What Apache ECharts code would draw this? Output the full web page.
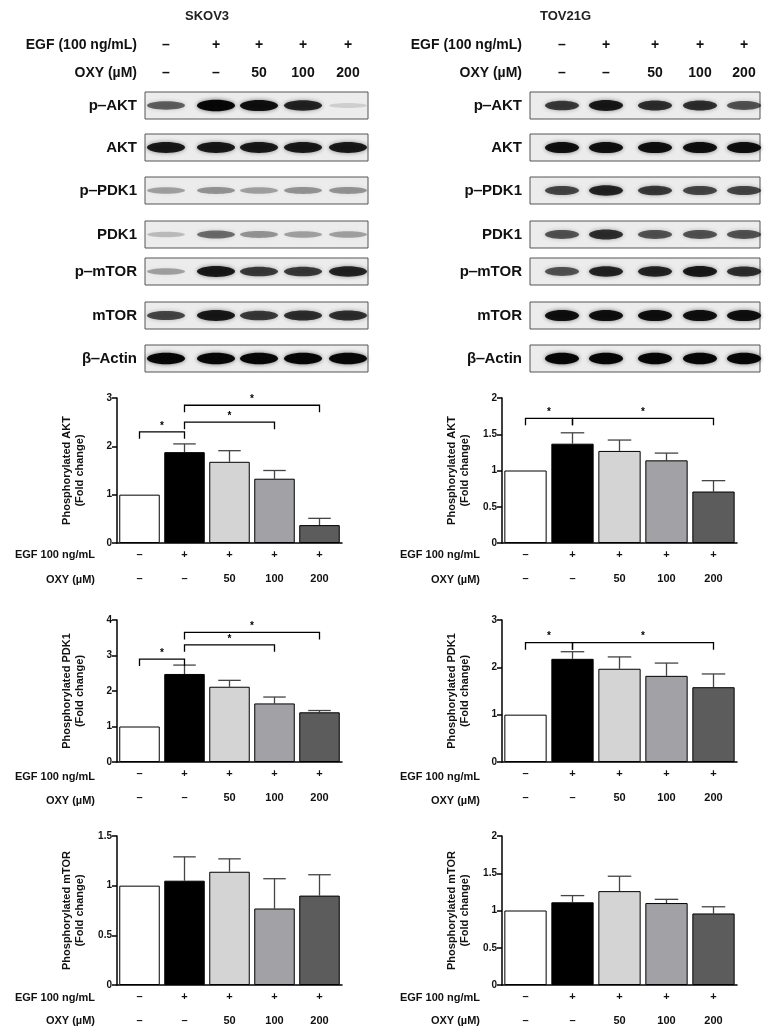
<!DOCTYPE html>
<html><head><meta charset="utf-8">
<script src="https://cdn.jsdelivr.net/npm/echarts@6/dist/echarts.min.js"></script>
<style>html,body{margin:0;padding:0;background:#fff}#c{width:773px;height:1033px}</style>
</head><body><div id="c"></div>
<script>
// ---- data ----
const egf = ['–','+','+','+','+'];
const oxy = ['–','–','50','100','200'];
const cellLines = ['SKOV3','TOV21G'];
const blotRows = ['p‒AKT','AKT','p‒PDK1','PDK1','p‒mTOR','mTOR','β‒Actin'];
// band darkness per row (0..1), per cell line
const bandsSKOV3 = [[0.55,0.95,0.9,0.8,0.12],[0.85,0.85,0.85,0.85,0.85],[0.3,0.35,0.3,0.35,0.35],[0.2,0.5,0.35,0.3,0.3],[0.3,0.85,0.7,0.7,0.8],[0.65,0.85,0.7,0.75,0.75],[0.95,0.95,0.95,0.95,0.95]];
const bandsTOV = [[0.7,0.85,0.75,0.75,0.6],[0.9,0.9,0.9,0.9,0.9],[0.65,0.8,0.7,0.65,0.65],[0.6,0.75,0.6,0.6,0.6],[0.6,0.8,0.8,0.85,0.75],[0.9,0.9,0.9,0.9,0.9],[0.95,0.95,0.95,0.95,0.95]];
const akt_S = [1,1.88,1.68,1.33,0.37], akt_S_err=[0,0.17,0.23,0.17,0.14];
const akt_T = [1,1.37,1.27,1.14,0.71], akt_T_err=[0,0.15,0.15,0.1,0.15];
const pdk_S = [1,2.48,2.12,1.65,1.4], pdk_S_err=[0,0.25,0.18,0.18,0.05];
const pdk_T = [1,2.18,1.97,1.82,1.58], pdk_T_err=[0,0.15,0.25,0.27,0.28];
const mtor_S = [1,1.05,1.14,0.77,0.9], mtor_S_err=[0,0.24,0.13,0.3,0.21];
const mtor_T = [1,1.11,1.26,1.1,0.96], mtor_T_err=[0,0.09,0.2,0.05,0.09];
// significance brackets: [fromIdx, toIdx, yValue]
const sig_akt_S = [[0,1,2.3],[1,3,2.5],[1,4,2.85]];
const sig_akt_T = [[0,1,1.72],[1,4,1.72]];
const sig_pdk_S = [[0,1,2.9],[1,3,3.3],[1,4,3.65]];
const sig_pdk_T = [[0,1,2.52],[1,4,2.52]];
const barColors = ['#ffffff','#000000','#d4d4d4','#a2a2a6','#5c5c5c'];

// ---- layout ----
const F = 'Liberation Sans, Arial, sans-serif';
const panels = [
 {lanes:[166,216,259,303,348], box:[145,368], labelX:137, title:[185,'SKOV3'], bands:bandsSKOV3, rx:19},
 {lanes:[562,606,655,700,744], box:[530,760], labelX:522, title:[540,'TOV21G'], bands:bandsTOV, rx:17}
];
const rowY = [92,134,177,221,258,302,345];
const rowH = 27;
const graphic = [];
panels.forEach(p=>{
  graphic.push({type:'text',left:p.title[0],top:10,style:{text:p.title[1],font:'bold 13px '+F,fill:'#222'}});
  graphic.push({type:'text',x:p.labelX,y:45,style:{text:'EGF (100 ng/mL)',font:'bold 14px '+F,align:'right',verticalAlign:'middle',fill:'#111'}});
  graphic.push({type:'text',x:p.labelX,y:73,style:{text:'OXY (µM)',font:'bold 14px '+F,align:'right',verticalAlign:'middle',fill:'#111'}});
  p.lanes.forEach((x,i)=>{
    graphic.push({type:'text',x:x,y:45,style:{text:egf[i],font:'bold 14px '+F,align:'center',verticalAlign:'middle',fill:'#111'}});
    graphic.push({type:'text',x:x,y:73,style:{text:oxy[i],font:'bold 14px '+F,align:'center',verticalAlign:'middle',fill:'#111'}});
  });
  blotRows.forEach((name,r)=>{
    const y=rowY[r];
    graphic.push({type:'text',x:p.labelX,y:y+rowH/2,style:{text:name,font:'bold 15px '+F,align:'right',verticalAlign:'middle',fill:'#111'}});
    graphic.push({type:'rect',shape:{x:p.box[0],y:y,width:p.box[1]-p.box[0],height:rowH},style:{fill:'#ececec',stroke:'#555',lineWidth:1}});
    p.lanes.forEach((x,i)=>{
      const d=p.bands[r][i];
      graphic.push({type:'ellipse',shape:{cx:x,cy:y+rowH/2,rx:p.rx,ry:2+d*4},style:{fill:'rgba(0,0,0,'+d+')',shadowBlur:4,shadowColor:'rgba(0,0,0,'+(d*0.6)+')'}});
    });
  });
});

const charts = [
 {left:117,width:225,top:398,height:145,max:3,interval:1,name:'AKT',v:akt_S,e:akt_S_err,s:sig_akt_S,rowX:95,rowY:[555,580]},
 {left:502,width:235,top:398,height:145,max:2,interval:0.5,name:'AKT',v:akt_T,e:akt_T_err,s:sig_akt_T,rowX:480,rowY:[555,580]},
 {left:117,width:225,top:620,height:142,max:4,interval:1,name:'PDK1',v:pdk_S,e:pdk_S_err,s:sig_pdk_S,rowX:95,rowY:[777,801]},
 {left:502,width:235,top:620,height:142,max:3,interval:1,name:'PDK1',v:pdk_T,e:pdk_T_err,s:sig_pdk_T,rowX:480,rowY:[777,801]},
 {left:117,width:225,top:836,height:149,max:1.5,interval:0.5,name:'mTOR',v:mtor_S,e:mtor_S_err,s:[],rowX:95,rowY:[998,1021]},
 {left:502,width:235,top:836,height:149,max:2,interval:0.5,name:'mTOR',v:mtor_T,e:mtor_T_err,s:[],rowX:480,rowY:[998,1021]}
];
const grid=[],xAxis=[],yAxis=[],series=[];
charts.forEach((c,k)=>{
  grid.push({left:c.left,width:c.width,top:c.top,height:c.height});
  xAxis.push({type:'category',gridIndex:k,data:egf.map((e,i)=>i),
    axisLine:{lineStyle:{color:'#000',width:1.5}},axisTick:{alignWithLabel:true,length:5,lineStyle:{color:'#000',width:1.5}},
    axisLabel:{margin:0,lineHeight:24,color:'#111',fontFamily:F,fontWeight:'bold',fontSize:11,formatter:v=>egf[v]+'\n'+oxy[v]}});
  yAxis.push({type:'value',gridIndex:k,min:0,max:c.max,interval:c.interval,splitLine:{show:false},
    axisLine:{show:true,lineStyle:{color:'#000',width:1.5}},axisTick:{show:true,length:5,lineStyle:{color:'#000',width:1.5}},
    axisLabel:{color:'#111',fontFamily:F,fontWeight:'bold',fontSize:10,margin:5},
    name:'Phosphorylated '+c.name+'\n(Fold change)',nameLocation:'middle',nameGap:31,nameRotate:90,
    nameTextStyle:{fontFamily:F,fontWeight:'bold',fontSize:11,color:'#111',lineHeight:13}});
  graphic.push({type:'text',x:c.rowX,y:c.rowY[0],style:{text:'EGF 100 ng/mL',font:'bold 11px '+F,align:'right',verticalAlign:'middle',fill:'#111'}});
  graphic.push({type:'text',x:c.rowX,y:c.rowY[1],style:{text:'OXY (µM)',font:'bold 11px '+F,align:'right',verticalAlign:'middle',fill:'#111'}});
  series.push({type:'bar',xAxisIndex:k,yAxisIndex:k,barCategoryGap:'10%',
    data:c.v.map((v,i)=>({value:v,itemStyle:{color:barColors[i],borderColor:'#000',borderWidth:1}}))});
  series.push({type:'custom',xAxisIndex:k,yAxisIndex:k,z:1,data:c.v.map((v,i)=>[i,v,c.e[i]]),
    renderItem:(params,api)=>{
      const i=api.value(0),v=api.value(1),e=api.value(2);
      if(!e) return;
      const p0=api.coord([i,v]),p1=api.coord([i,v+e]);const w=api.size([1,0])[0]*0.25;
      return {type:'group',children:[
        {type:'line',shape:{x1:p0[0],y1:p0[1],x2:p1[0],y2:p1[1]},style:{stroke:'#444',lineWidth:1.3}},
        {type:'line',shape:{x1:p1[0]-w,y1:p1[1],x2:p1[0]+w,y2:p1[1]},style:{stroke:'#444',lineWidth:1.3}}]};
    }});
  if(c.s.length) series.push({type:'custom',xAxisIndex:k,yAxisIndex:k,data:c.s,
    renderItem:(params,api)=>{
      const a=api.coord([api.value(0),api.value(2)]),b=api.coord([api.value(1),api.value(2)]);
      return {type:'group',children:[
        {type:'polyline',shape:{points:[[a[0],a[1]+7],[a[0],a[1]],[b[0],b[1]],[b[0],b[1]+7]]},style:{stroke:'#000',lineWidth:1.3,fill:null}},
        {type:'text',x:(a[0]+b[0])/2,y:a[1]-1,style:{text:'*',font:'bold 10px '+F,align:'center',verticalAlign:'bottom',fill:'#000'}}]};
    }});
});
const chart=echarts.init(document.getElementById('c'));
chart.setOption({animation:false,grid,xAxis,yAxis,series,graphic});
</script></body></html>
